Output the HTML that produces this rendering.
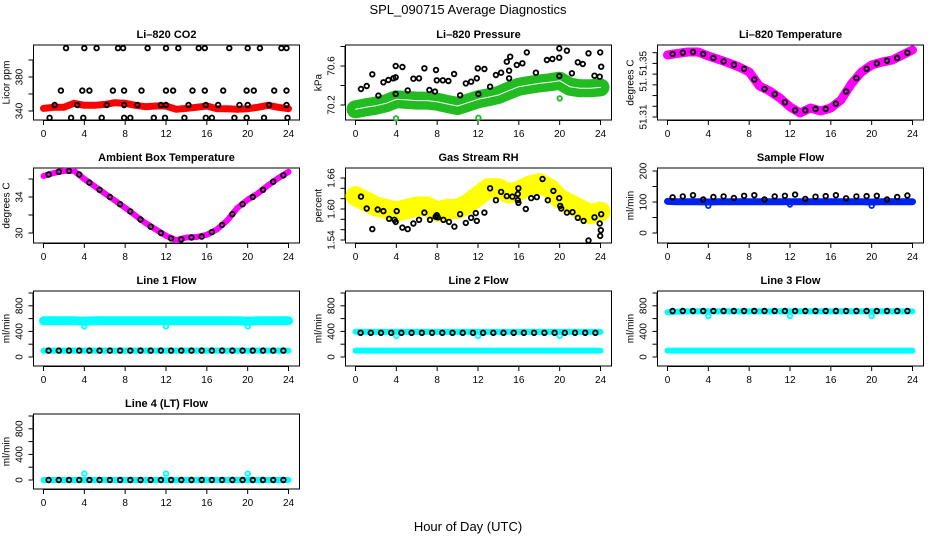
<!DOCTYPE html>
<html><head><meta charset="utf-8">
<style>
html,body{margin:0;padding:0;background:#fff;}
svg{display:block;font-family:"Liberation Sans",sans-serif;}
</style></head>
<body>
<svg id="chart" width="936" height="540" viewBox="0 0 936 540">
<rect x="0" y="0" width="936" height="540" fill="#fff"/>
<text x="468" y="14" text-anchor="middle" font-size="13">SPL_090715  Average Diagnostics</text>
<text x="468" y="531" text-anchor="middle" font-size="13">Hour of Day (UTC)</text>
</svg>
<script>
// ---------- data ----------
const hours = [0,1,2,3,4,5,6,7,8,9,10,11,12,13,14,15,16,17,18,19,20,21,22,23,24];
const halfHours = [0.5,1.5,2.5,3.5,4.5,5.5,6.5,7.5,8.5,9.5,10.5,11.5,12.5,13.5,14.5,15.5,16.5,17.5,18.5,19.5,20.5,21.5,22.5,23.5];
const xTicks = [0,4,8,12,16,20,24];

const co2Band = [343.1,344.3,344.3,349.0,346.7,346.7,347.8,349.8,349.0,346.7,345.1,345.9,345.9,342.0,343.1,344.3,345.9,342.7,342.7,342.0,342.7,344.3,346.7,344.3,342.7];
const co2PtHours = [2.2,4,5.2,7.3,7.8,10.2,12,13.2,15.2,15.8,18.2,20,21.2,23.3,23.8,
 1.7,3.8,4.5,6.8,7.9,9.6,12,12.7,14.6,15.8,17.6,19.9,20.6,22.6,23.8,
 1.1,3.3,6.2,7.9,9.2,11.5,12,14.2,15.9,17.1,19.2,20,22.1,23.8,
 0.6,2.7,3.9,5.7,7.9,8.5,10.8,11.9,13.8,15.9,16.5,18.7,19.9,21.6,23.9];
const co2PtValues = [414,414,414,414,414,414,414,414,414,414,414,414,414,414,414,
 364,364,364,364,364,364,364,364,364,364,364,364,364,364,364,
 347,347,347,347,347,347,347,347,347,347,347,347,347,347,
 332,332,332,332,332,332,332,332,332,332,332,332,332,332,332];

const presBand = [70.156,70.176,70.193,70.217,70.258,70.252,70.245,70.245,70.234,70.210,70.190,70.224,70.258,70.279,70.303,70.347,70.388,70.405,70.422,70.433,70.449,70.388,70.371,70.371,70.381];
const presPtHours = [0.54,1.10,1.65,2.24,2.73,3.22,3.71,3.94,3.94,3.94,4.59,5.11,5.67,6.22,6.75,7.24,7.79,7.89,7.96,8.55,9.10,9.66,10.25,10.80,11.32,11.88,11.98,12.04,12.63,13.19,13.75,14.26,14.82,15.05,15.05,15.15,15.80,16.35,16.78,17.67,18.75,19.29,19.95,19.96,19.96,20.71,21.20,21.78,22.27,22.82,23.41,23.97,24.07,23.92];
const presPtValues = [70.364,70.395,70.515,70.296,70.433,70.456,70.474,70.484,70.313,70.600,70.590,70.350,70.470,70.474,70.576,70.354,70.337,70.559,70.453,70.453,70.446,70.518,70.299,70.422,70.439,70.474,70.576,70.313,70.569,70.388,70.508,70.531,70.644,70.474,70.552,70.695,70.610,70.628,70.740,70.531,70.662,70.672,70.685,70.497,70.781,70.757,70.525,70.638,70.621,70.730,70.501,70.740,70.593,70.490];
const presOutHours = [3.97,12.04,20.0];
const presOutValues = [70.063,70.069,70.268];

const tempBand = [51.3563,51.3575,51.3585,51.3585,51.3555,51.3530,51.3503,51.3473,51.3436,51.3331,51.3294,51.3242,51.3175,51.3130,51.3167,51.3145,51.3167,51.3227,51.3346,51.3436,51.3488,51.3510,51.3525,51.3563,51.3600];
const tempPts = [51.3570,51.3580,51.3585,51.3570,51.3540,51.3515,51.3490,51.3460,51.3380,51.3310,51.3270,51.3210,51.3150,51.3150,51.3160,51.3160,51.3200,51.3290,51.3390,51.3460,51.3500,51.3520,51.3540,51.3580];

const ambBand = [36.33,36.67,36.9,36.9,36.0,35.2,34.4,33.6,32.8,31.95,31.1,30.4,29.7,29.2,29.5,29.55,29.8,30.4,31.4,32.8,33.7,34.4,35.3,36.1,36.8];
const ambPts = [36.5,36.8,36.9,36.5,35.6,34.8,34.0,33.2,32.4,31.5,30.7,30.0,29.4,29.3,29.5,29.6,30.1,30.9,32.1,33.2,34.0,34.8,35.7,36.4];

const rhBand = [1.625,1.615,1.605,1.600,1.595,1.600,1.605,1.605,1.595,1.600,1.600,1.610,1.625,1.640,1.640,1.630,1.635,1.645,1.650,1.640,1.620,1.610,1.600,1.590,1.595];
const rhPtHours = [0.54,1.10,1.65,2.17,2.73,3.29,3.81,3.94,4.04,4.59,5.11,5.67,6.22,6.75,7.30,7.86,7.96,8.06,8.61,9.16,9.69,10.25,10.80,11.32,11.78,11.88,12.63,13.19,13.75,14.26,14.82,15.37,15.90,15.90,15.96,15.96,16.68,17.21,17.76,18.32,18.84,19.39,19.95,20.05,20.15,20.71,21.26,21.78,22.34,22.82,23.41,23.92,24.03,23.97,24.07];
const rhPtValues = [1.624,1.601,1.561,1.599,1.596,1.581,1.579,1.575,1.596,1.564,1.561,1.572,1.579,1.593,1.579,1.585,1.588,1.584,1.579,1.575,1.566,1.590,1.573,1.583,1.592,1.577,1.593,1.640,1.617,1.633,1.625,1.624,1.629,1.617,1.640,1.612,1.600,1.621,1.623,1.658,1.617,1.635,1.621,1.606,1.601,1.593,1.594,1.583,1.577,1.539,1.584,1.572,1.559,1.548,1.590];

const flowBand = [102,101,101,101,100,101,101,101,101,101,101,101,101,101,101,101,101,101,101,101,100,101,101,101,101];
const flowPts = [115,118,122,108,116,118,113,120,122,108,118,120,124,110,117,119,122,112,118,119,120,108,116,121];
const outlierHours = [4,12,20];
const flowOut = [88,92,88];

const line1High = [565,565,565,565,560,565,565,565,565,565,565,565,565,565,565,565,565,565,565,565,560,565,565,565,565];
const line1Low = [100,100,100,100,100,100,100,100,100,100,100,100,100,100,100,100,100,100,100,100,100,100,100,100,100];
const line1Pts = [100,100,100,100,100,100,100,100,100,100,100,100,100,100,100,100,100,100,100,100,100,100,100,100];
const line1Out = [480,480,480];

const line2High = [395,392,392,392,392,392,392,392,392,392,392,392,392,392,392,392,392,392,392,392,392,392,392,392,392];
const line2Low = [100,100,100,100,100,100,100,100,100,100,100,100,100,100,100,100,100,100,100,100,100,100,100,100,100];
const line2Pts = [378,378,378,378,378,378,378,378,378,378,378,378,378,378,378,378,378,378,378,378,378,378,378,378];
const line2Out = [330,330,330];

const line3High = [700,710,712,712,712,712,712,712,712,712,712,712,712,712,712,712,712,712,712,712,712,712,712,712,712];
const line3Low = [100,100,100,100,100,100,100,100,100,100,100,100,100,100,100,100,100,100,100,100,100,100,100,100,100];
const line3Pts = [718,718,718,718,718,718,718,718,718,718,718,718,718,718,718,718,718,718,718,718,718,718,718,718];
const line3Out = [640,640,640];

const line4Low = [0,0,0,0,0,0,0,0,0,0,0,0,0,0,0,0,0,0,0,0,0,0,0,0,0];
const line4Pts = [0,0,0,0,0,0,0,0,0,0,0,0,0,0,0,0,0,0,0,0,0,0,0,0];
const line4Out = [100,100,100];

// ---------- drawing ----------
const NS = 'http://www.w3.org/2000/svg';
const svg = document.getElementById('chart');
function mk(tag, attrs, parent){
  const e = document.createElementNS(NS, tag);
  for (const k in attrs) e.setAttribute(k, attrs[k]);
  (parent||svg).appendChild(e);
  return e;
}

function panel(cfg){
  const L = cfg.col*312 + 33.5, R = cfg.col*312 + 299.5;
  const T = 45 + cfg.row*123, B = 120 + cfg.row*123;
  const g = mk('g', {});
  
  
  const xs = h => (L + 10) + h * ((R - 11) - (L + 10)) / 24;
  const ys = v => T + cfg.zeroRel - (v - cfg.v0) * cfg.ppu;
  cfg.xs = xs; cfg.ys = ys; cfg.g = g;

  const title = mk('text', {x:(L+R)/2, y:T-7, 'text-anchor':'middle', 'font-size':'11', 'font-weight':'bold'}, g);
  title.textContent = cfg.title;
  
  

  const box = mk('rect', {x:L, y:T, width:R-L, height:B-T, fill:'none', stroke:'#000', 'stroke-width':'1'}, g);
  
  

  const xa = mk('g', {}, g);
  
  
  mk('line', {x1:xs(0), x2:xs(24), y1:B+0.5, y2:B+0.5, stroke:'#000'}, xa);
  xTicks.forEach(t => {
    mk('line', {x1:xs(t), x2:xs(t), y1:B, y2:B+5, stroke:'#000'}, xa);
    const tx = mk('text', {x:xs(t), y:B+17, 'text-anchor':'middle', 'font-size':'10'}, xa);
    tx.textContent = t;
    
    
  });
  const ya = mk('g', {}, g);
  
  
  const yt = cfg.yTicks;
  mk('line', {x1:L-0.5, x2:L-0.5, y1:ys(yt[0]), y2:ys(yt[yt.length-1]), stroke:'#000'}, ya);
  yt.forEach(t => mk('line', {x1:L-5, x2:L, y1:ys(t), y2:ys(t), stroke:'#000'}, ya));
  cfg.yLabels.forEach((t, i) => {
    const y = ys(t);
    const tx = mk('text', {x:L-11, y:y, 'text-anchor':'middle', 'font-size':'10', transform:`rotate(-90 ${L-11} ${y})`}, ya);
    tx.textContent = cfg.yLabelText ? cfg.yLabelText[i] : t;
    
    
  });
  const yl = mk('text', {x:L-24, y:(T+B)/2, 'text-anchor':'middle', 'font-size':'10', transform:`rotate(-90 ${L-24} ${(T+B)/2})`}, g);
  yl.textContent = cfg.yTitle;
  
  
  return cfg;
}

function band(cfg, xsArr, vals, color, width, name){
  const d = vals.map((v,i) => (i?'L':'M') + cfg.xs(xsArr[i]).toFixed(1) + ' ' + cfg.ys(v).toFixed(1)).join(' ');
  const p = mk('path', {d:d, fill:'none', stroke:color, 'stroke-width':width, 'stroke-linejoin':'round', 'stroke-linecap':'round'}, cfg.g);
  
  
  return p;
}
function points(cfg, xsArr, vals, color, name){
  const g = mk('g', {}, cfg.g);
  
  
  vals.forEach((v,i) => {
    const c = mk('circle', {cx:cfg.xs(xsArr[i]).toFixed(1), cy:cfg.ys(v).toFixed(1), r:2.3, fill:'none', stroke:color, 'stroke-width':1.8}, g);
    
    
  });
}

const p1 = panel({name:'co2', title:'Li\u2013820 CO2', col:0, row:0, v0:340, zeroRel:66, ppu:0.85,
  yTicks:[340,360,380,400], yLabels:[340,380], yTitle:'Licor ppm'});
band(p1, hours, co2Band, '#ff0000', 7, 'co2-average-band');
points(p1, co2PtHours, co2PtValues, '#000', 'co2-points');

const p2 = panel({name:'pressure', title:'Li\u2013820 Pressure', col:1, row:0, v0:70.2, zeroRel:60, ppu:97.5,
  yTicks:[70.2,70.4,70.6,70.8], yLabels:[70.2,70.6], yTitle:'kPa'});
band(p2, hours, presBand, '#22bb22', 18, 'pressure-average-band');
band(p2, hours, presBand, '#ffffff', 1, 'pressure-center-line');
points(p2, presPtHours, presPtValues, '#000', 'pressure-points');
points(p2, presOutHours, presOutValues, '#22bb22', 'pressure-outliers');

const p3 = panel({name:'li820-temperature', title:'Li\u2013820 Temperature', col:2, row:0, v0:51.31, zeroRel:72, ppu:1340,
  yTicks:[51.31,51.318,51.326,51.334,51.342,51.35,51.358], yLabels:[51.31,51.334,51.35], yLabelText:['51.31','51.','51.35'], yTitle:'degrees C'});
band(p3, hours, tempBand, '#ff00ff', 9, 'temperature-average-band');
points(p3, halfHours, tempPts, '#000', 'temperature-points');

const p4 = panel({name:'ambient-temperature', title:'Ambient Box Temperature', col:0, row:1, v0:30, zeroRel:65, ppu:9,
  yTicks:[30,32,34,36], yLabels:[30,34], yTitle:'degrees C'});
band(p4, hours, ambBand, '#ff00ff', 6, 'ambient-average-band');
points(p4, halfHours, ambPts, '#000', 'ambient-points');

const p5 = panel({name:'gas-rh', title:'Gas Stream RH', col:1, row:1, v0:1.54, zeroRel:72, ppu:516.7,
  yTicks:[1.54,1.56,1.58,1.60,1.62,1.64,1.66], yLabels:[1.54,1.60,1.66], yLabelText:['1.54','1.60','1.66'], yTitle:'percent'});
band(p5, hours, rhBand, '#ffff00', 20, 'rh-average-band');
points(p5, rhPtHours, rhPtValues, '#000', 'rh-points');

const p6 = panel({name:'sample-flow', title:'Sample Flow', col:2, row:1, v0:0, zeroRel:65, ppu:0.31,
  yTicks:[0,50,100,150,200], yLabels:[0,100,200], yTitle:'ml/min'});
band(p6, hours, flowBand, '#0022ee', 7, 'sample-flow-band');
points(p6, outlierHours, flowOut, '#0022ee', 'sample-flow-outliers');
points(p6, halfHours, flowPts, '#000', 'sample-flow-points');

const flowTicks = [0,200,400,600,800,1000];
function linePanel(name, title, col, row, high, low, pts, out, highWidth){
  const p = panel({name:name, title:title, col:col, row:row, v0:0, zeroRel:66, ppu:0.064,
    yTicks:flowTicks, yLabels:[0,400,800], yTitle:'ml/min'});
  if (high) band(p, hours, high, '#00ffff', highWidth, name + '-high-band');
  band(p, hours, low, '#00ffff', 6, name + '-low-band');
  points(p, outlierHours, out, '#00ffff', name + '-outliers');
  points(p, halfHours, pts, '#000', name + '-points');
  return p;
}
linePanel('line1-flow', 'Line 1 Flow', 0, 2, line1High, line1Low, line1Pts, line1Out, 9);
linePanel('line2-flow', 'Line 2 Flow', 1, 2, line2High, line2Low, line2Pts, line2Out, 6);
linePanel('line3-flow', 'Line 3 Flow', 2, 2, line3High, line3Low, line3Pts, line3Out, 6);
linePanel('line4-flow', 'Line 4 (LT) Flow', 0, 3, null, line4Low, line4Pts, line4Out, 6);
</script>
</body></html>
